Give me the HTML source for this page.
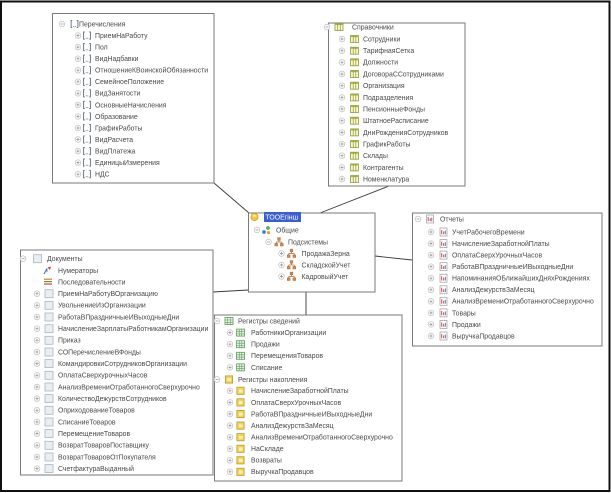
<!DOCTYPE html>
<html><head><meta charset="utf-8">
<style>
html,body{margin:0;padding:0;background:#fff;}
svg{display:block;}
text{font-family:"Liberation Sans","DejaVu Sans",sans-serif;font-size:6.9px;fill:#4a4a4a;}
</style></head>
<body>
<svg width="611" height="493" viewBox="0 0 611 493" xmlns="http://www.w3.org/2000/svg">
<defs>
  <g id="pl"><circle r="2.8" fill="#fff" stroke="#c4c4c4" stroke-width="0.8"/><path d="M-1.5,0H1.5M0,-1.5V1.5" stroke="#8c8c8c" stroke-width="0.7"/></g>
  <g id="mi"><circle r="2.8" fill="#fff" stroke="#c4c4c4" stroke-width="0.8"/><path d="M-1.5,0H1.5" stroke="#8c8c8c" stroke-width="0.7"/></g>
  <g id="en"><path d="M-2.2,-3.6H-3.4V3.6H-2.2M2.2,-3.6H3.4V3.6H2.2" fill="none" stroke="#5d6d7d" stroke-width="0.9"/><circle cx="-0.8" cy="2.6" r="0.5" fill="#5d6d7d"/><circle cx="0.8" cy="2.6" r="0.5" fill="#5d6d7d"/></g>
  <g id="ct"><rect x="-4" y="-3.5" width="8" height="7" fill="#fbf6c6" stroke="#8e983e" stroke-width="0.8"/><rect x="-4" y="-3.5" width="8" height="1.6" fill="#a9b24e"/><path d="M-1.3,-3.5V3.5M1.3,-3.5V3.5" stroke="#8e983e" stroke-width="0.7"/></g>
  <g id="rp"><rect x="-3.5" y="-4" width="7" height="8" fill="#fff" stroke="#9a9a9a" stroke-width="0.7"/><path d="M-1.8,2.3V-2M0.2,2.3V-0.6" stroke="#c83a3a" stroke-width="0.9"/><path d="M1.8,2.3V-1.4" stroke="#4a6ab0" stroke-width="0.9"/></g>
  <g id="dc"><rect x="-4" y="-4" width="8" height="8" fill="#e9eef3" stroke="#a9b4bf" stroke-width="0.8"/></g>
  <g id="rs"><rect x="-4" y="-3.5" width="8" height="7" fill="#eaf5e4" stroke="#5a9b5a" stroke-width="0.8"/><path d="M-1.3,-3.5V3.5M1.3,-3.5V3.5M-4,-1H4M-4,1.3H4" stroke="#5a9b5a" stroke-width="0.6"/></g>
  <g id="ra"><rect x="-3.6" y="-3.6" width="7.2" height="7.2" fill="#f3d45c" stroke="#b99a2a" stroke-width="0.8"/><rect x="-1.6" y="-1.2" width="3.6" height="2.8" fill="#fff4c0"/></g>
  <g id="sb"><path d="M0,-2V0M-2.8,0H2.8M-2.8,0V1.5M2.8,0V1.5" stroke="#a86a3a" stroke-width="0.7" fill="none"/><rect x="-1.4" y="-4.4" width="2.8" height="2.6" fill="#d8884a" stroke="#9a5a2a" stroke-width="0.4"/><rect x="-4.2" y="1.4" width="2.8" height="2.6" fill="#d8884a" stroke="#9a5a2a" stroke-width="0.4"/><rect x="1.4" y="1.4" width="2.8" height="2.6" fill="#d8884a" stroke="#9a5a2a" stroke-width="0.4"/></g>
</defs>

<!-- outer frame -->
<rect x="1" y="1.5" width="608.5" height="489.5" fill="none" stroke="#111" stroke-width="2"/>

<!-- connectors -->
<g stroke="#3a3a3a" stroke-width="0.9" fill="none">
  <path d="M214,183L249,213"/>
  <path d="M389,186L320,213"/>
  <path d="M375,256L412,260"/>
  <path d="M213,292L248,290"/>
  <path d="M306,292V315"/>
</g>

<!-- Box 1: Перечисления -->
<rect x="52.5" y="13.5" width="161.5" height="169.5" fill="#fff" stroke="#7a7a7a" stroke-width="1"/>
<use href="#mi" x="62" y="24"/><use href="#en" x="74.5" y="24"/><text x="79" y="26.4">Перечисления</text>
<g>
<use href="#pl" x="78" y="35.6"/><use href="#en" x="87" y="35.6"/><text x="95" y="38">ПриемНаРаботу</text>
<use href="#pl" x="78" y="47.1"/><use href="#en" x="87" y="47.1"/><text x="95" y="49.5">Пол</text>
<use href="#pl" x="78" y="58.7"/><use href="#en" x="87" y="58.7"/><text x="95" y="61.1">ВидНадбавки</text>
<use href="#pl" x="78" y="70.2"/><use href="#en" x="87" y="70.2"/><text x="95" y="72.6">ОтношениеКВоинскойОбязанности</text>
<use href="#pl" x="78" y="81.8"/><use href="#en" x="87" y="81.8"/><text x="95" y="84.2">СемейноеПоложение</text>
<use href="#pl" x="78" y="93.3"/><use href="#en" x="87" y="93.3"/><text x="95" y="95.7">ВидЗанятости</text>
<use href="#pl" x="78" y="104.9"/><use href="#en" x="87" y="104.9"/><text x="95" y="107.3">ОсновныеНачисления</text>
<use href="#pl" x="78" y="116.4"/><use href="#en" x="87" y="116.4"/><text x="95" y="118.8">Образование</text>
<use href="#pl" x="78" y="128"/><use href="#en" x="87" y="128"/><text x="95" y="130.4">ГрафикРаботы</text>
<use href="#pl" x="78" y="139.5"/><use href="#en" x="87" y="139.5"/><text x="95" y="141.9">ВидРасчета</text>
<use href="#pl" x="78" y="151.1"/><use href="#en" x="87" y="151.1"/><text x="95" y="153.5">ВидПлатежа</text>
<use href="#pl" x="78" y="162.6"/><use href="#en" x="87" y="162.6"/><text x="95" y="165">ЕдиницыИзмерения</text>
<use href="#pl" x="78" y="174.2"/><use href="#en" x="87" y="174.2"/><text x="95" y="176.6">НДС</text>
</g>

<!-- Box 2: Справочники -->
<rect x="328.5" y="23" width="136.5" height="163" fill="#fff" stroke="#7a7a7a" stroke-width="1"/>
<use href="#mi" x="327" y="27"/><use href="#ct" x="339" y="27"/><text x="352" y="29.4">Справочники</text>
<use href="#pl" x="342" y="39"/><use href="#ct" x="354.5" y="39"/><text x="363" y="41.4">Сотрудники</text>
<use href="#pl" x="342" y="50.7"/><use href="#ct" x="354.5" y="50.7"/><text x="363" y="53.1">ТарифнаяСетка</text>
<use href="#pl" x="342" y="62.3"/><use href="#ct" x="354.5" y="62.3"/><text x="363" y="64.7">Должности</text>
<use href="#pl" x="342" y="74"/><use href="#ct" x="354.5" y="74"/><text x="363" y="76.4">ДоговораССотрудниками</text>
<use href="#pl" x="342" y="85.7"/><use href="#ct" x="354.5" y="85.7"/><text x="363" y="88.1">Организация</text>
<use href="#pl" x="342" y="97.4"/><use href="#ct" x="354.5" y="97.4"/><text x="363" y="99.8">Подразделения</text>
<use href="#pl" x="342" y="109"/><use href="#ct" x="354.5" y="109"/><text x="363" y="111.4">ПенсионныеФонды</text>
<use href="#pl" x="342" y="120.7"/><use href="#ct" x="354.5" y="120.7"/><text x="363" y="123.1">ШтатноеРасписание</text>
<use href="#pl" x="342" y="132.4"/><use href="#ct" x="354.5" y="132.4"/><text x="363" y="134.8">ДниРожденияСотрудников</text>
<use href="#pl" x="342" y="144"/><use href="#ct" x="354.5" y="144"/><text x="363" y="146.4">ГрафикРаботы</text>
<use href="#pl" x="342" y="155.7"/><use href="#ct" x="354.5" y="155.7"/><text x="363" y="158.1">Склады</text>
<use href="#pl" x="342" y="167.4"/><use href="#ct" x="354.5" y="167.4"/><text x="363" y="169.8">Контрагенты</text>
<use href="#pl" x="342" y="179"/><use href="#ct" x="354.5" y="179"/><text x="363" y="181.4">Номенклатура</text>

<!-- Center box -->
<rect x="248.5" y="213" width="126.5" height="79" fill="#fff" stroke="#7a7a7a" stroke-width="1"/>
<circle cx="254.5" cy="217" r="3.6" fill="#f2c83a" stroke="#c79a18" stroke-width="0.7"/>
<ellipse cx="254.5" cy="215.8" rx="2" ry="1.2" fill="#fbe89a"/>
<rect x="264" y="212" width="37" height="10" fill="#3b5fcf"/>
<text x="265.5" y="219.5" style="fill:#fff">ТООЕгінш</text>
<use href="#mi" x="257" y="230"/>
<g>
  <circle cx="264" cy="232" r="1.9" fill="#3a8ad0"/>
  <circle cx="268" cy="228" r="1.9" fill="#5ab04a"/>
  <circle cx="268.5" cy="232.6" r="1.6" fill="#e89a3a"/>
</g>
<text x="276" y="232.4">Общие</text>
<use href="#mi" x="268.5" y="242"/><use href="#sb" x="279" y="242"/><text x="288" y="244.4">Подсистемы</text>
<use href="#pl" x="281.5" y="253.5"/><use href="#sb" x="291.5" y="253.5"/><text x="301.5" y="255.9">ПродажаЗерна</text>
<use href="#pl" x="281.5" y="265"/><use href="#sb" x="291.5" y="265"/><text x="301.5" y="267.4">СкладскойУчет</text>
<use href="#pl" x="281.5" y="276.5"/><use href="#sb" x="291.5" y="276.5"/><text x="301.5" y="278.9">КадровыйУчет</text>

<!-- Отчеты box -->
<rect x="412.5" y="213" width="189.5" height="133" fill="#fff" stroke="#7a7a7a" stroke-width="1"/>
<use href="#mi" x="418" y="219"/><use href="#rp" x="430" y="219"/><text x="440" y="221.4">Отчеты</text>
<use href="#pl" x="431" y="232"/><use href="#rp" x="443.5" y="232"/><text x="452" y="234.4">УчетРабочегоВремени</text>
<use href="#pl" x="431" y="243.6"/><use href="#rp" x="443.5" y="243.6"/><text x="452" y="246">НачислениеЗаработнойПлаты</text>
<use href="#pl" x="431" y="255.1"/><use href="#rp" x="443.5" y="255.1"/><text x="452" y="257.5">ОплатаСверхУрочныхЧасов</text>
<use href="#pl" x="431" y="266.7"/><use href="#rp" x="443.5" y="266.7"/><text x="452" y="269.1">РаботаВПраздничныеИВыходныеДни</text>
<use href="#pl" x="431" y="278.2"/><use href="#rp" x="443.5" y="278.2"/><text x="452" y="280.6">НапоминанияОБлижайшихДняхРождениях</text>
<use href="#pl" x="431" y="289.8"/><use href="#rp" x="443.5" y="289.8"/><text x="452" y="292.2">АнализДежурствЗаМесяц</text>
<use href="#pl" x="431" y="301.3"/><use href="#rp" x="443.5" y="301.3"/><text x="452" y="303.7">АнализВремениОтработанногоСверхурочно</text>
<use href="#pl" x="431" y="312.9"/><use href="#rp" x="443.5" y="312.9"/><text x="452" y="315.3">Товары</text>
<use href="#pl" x="431" y="324.4"/><use href="#rp" x="443.5" y="324.4"/><text x="452" y="326.8">Продажи</text>
<use href="#pl" x="431" y="336"/><use href="#rp" x="443.5" y="336"/><text x="452" y="338.4">ВыручкаПродавцов</text>

<!-- Документы box -->
<rect x="20.5" y="250" width="192.5" height="225" fill="#fff" stroke="#7a7a7a" stroke-width="1"/>
<use href="#mi" x="23" y="258.7"/><use href="#dc" x="37.5" y="258.7"/><text x="47" y="261.1">Документы</text>
<g>
  <path d="M44,274L47,268.5" stroke="#3a6ac0" stroke-width="1"/>
  <path d="M47.5,267.5L51,266.5L50,270" fill="#d04040"/>
  <path d="M47,272V268.5" stroke="#3a6ac0" stroke-width="0.8"/>
</g>
<text x="58" y="272.8">Нумераторы</text>
<g>
  <path d="M44,279.2H52" stroke="#e07a2a" stroke-width="1.2"/>
  <path d="M44,281.6H52" stroke="#4a9a4a" stroke-width="1.2"/>
  <path d="M44,284H52" stroke="#d04a3a" stroke-width="1.2"/>
</g>
<text x="58" y="284.4">Последовательности</text>
<use href="#pl" x="37" y="293.7"/><use href="#dc" x="49" y="293.7"/><text x="58" y="296.1">ПриемНаРаботуВОрганизацию</text>
<use href="#pl" x="37" y="305.3"/><use href="#dc" x="49" y="305.3"/><text x="58" y="307.7">УвольнениеИзОрганизации</text>
<use href="#pl" x="37" y="317"/><use href="#dc" x="49" y="317"/><text x="58" y="319.4">РаботаВПраздничныеИВыходныеДни</text>
<use href="#pl" x="37" y="328.7"/><use href="#dc" x="49" y="328.7"/><text x="58" y="331.1">НачислениеЗарплатыРаботникамОрганизации</text>
<use href="#pl" x="37" y="340.3"/><use href="#dc" x="49" y="340.3"/><text x="58" y="342.7">Приказ</text>
<use href="#pl" x="37" y="352"/><use href="#dc" x="49" y="352"/><text x="58" y="354.4">СОПеречислениеВФонды</text>
<use href="#pl" x="37" y="363.6"/><use href="#dc" x="49" y="363.6"/><text x="58" y="366">КомандировкиСотрудниковОрганизации</text>
<use href="#pl" x="37" y="375.3"/><use href="#dc" x="49" y="375.3"/><text x="58" y="377.7">ОплатаСверхурочныхЧасов</text>
<use href="#pl" x="37" y="387"/><use href="#dc" x="49" y="387"/><text x="58" y="389.4">АнализВремениОтработанногоСверхурочно</text>
<use href="#pl" x="37" y="398.6"/><use href="#dc" x="49" y="398.6"/><text x="58" y="401">КоличествоДежурствСотрудников</text>
<use href="#pl" x="37" y="410.3"/><use href="#dc" x="49" y="410.3"/><text x="58" y="412.7">ОприходованиеТоваров</text>
<use href="#pl" x="37" y="422"/><use href="#dc" x="49" y="422"/><text x="58" y="424.4">СписаниеТоваров</text>
<use href="#pl" x="37" y="433.6"/><use href="#dc" x="49" y="433.6"/><text x="58" y="436">ПеремещениеТоваров</text>
<use href="#pl" x="37" y="445.3"/><use href="#dc" x="49" y="445.3"/><text x="58" y="447.7">ВозвратТоваровПоставщику</text>
<use href="#pl" x="37" y="457"/><use href="#dc" x="49" y="457"/><text x="58" y="459.4">ВозвратТоваровОтПокупателя</text>
<use href="#pl" x="37" y="468.6"/><use href="#dc" x="49" y="468.6"/><text x="58" y="471">СчетфактураВыданный</text>

<!-- Регистры box -->
<rect x="214.5" y="315" width="187.5" height="166" fill="#fff" stroke="#7a7a7a" stroke-width="1"/>
<use href="#mi" x="217" y="321"/><use href="#rs" x="229" y="321"/><text x="238" y="323.4">Регистры сведений</text>
<use href="#pl" x="230" y="332.6"/><use href="#rs" x="240.5" y="332.6"/><text x="251" y="335">РаботникиОрганизации</text>
<use href="#pl" x="230" y="344.2"/><use href="#rs" x="240.5" y="344.2"/><text x="251" y="346.6">Продажи</text>
<use href="#pl" x="230" y="355.8"/><use href="#rs" x="240.5" y="355.8"/><text x="251" y="358.2">ПеремещенияТоваров</text>
<use href="#pl" x="230" y="367.4"/><use href="#rs" x="240.5" y="367.4"/><text x="251" y="369.8">Списание</text>
<use href="#mi" x="217" y="379.5"/><use href="#ra" x="229" y="379.5"/><text x="238" y="381.9">Регистры накопления</text>
<use href="#pl" x="230" y="390.8"/><use href="#ra" x="240.5" y="390.8"/><text x="251" y="393.2">НачислениеЗаработнойПлаты</text>
<use href="#pl" x="230" y="402.4"/><use href="#ra" x="240.5" y="402.4"/><text x="251" y="404.8">ОплатаСверхУрочныхЧасов</text>
<use href="#pl" x="230" y="414"/><use href="#ra" x="240.5" y="414"/><text x="251" y="416.4">РаботаВПраздничныеИВыходныеДни</text>
<use href="#pl" x="230" y="425.6"/><use href="#ra" x="240.5" y="425.6"/><text x="251" y="428">АнализДежурствЗаМесяц</text>
<use href="#pl" x="230" y="437.2"/><use href="#ra" x="240.5" y="437.2"/><text x="251" y="439.6">АнализВремениОтработанногоСверхурочно</text>
<use href="#pl" x="230" y="448.8"/><use href="#ra" x="240.5" y="448.8"/><text x="251" y="451.2">НаСкладе</text>
<use href="#pl" x="230" y="460.3"/><use href="#ra" x="240.5" y="460.3"/><text x="251" y="462.7">Возвраты</text>
<use href="#pl" x="230" y="471.8"/><use href="#ra" x="240.5" y="471.8"/><text x="251" y="474.2">ВыручкаПродавцов</text>
</svg>
</body></html>
